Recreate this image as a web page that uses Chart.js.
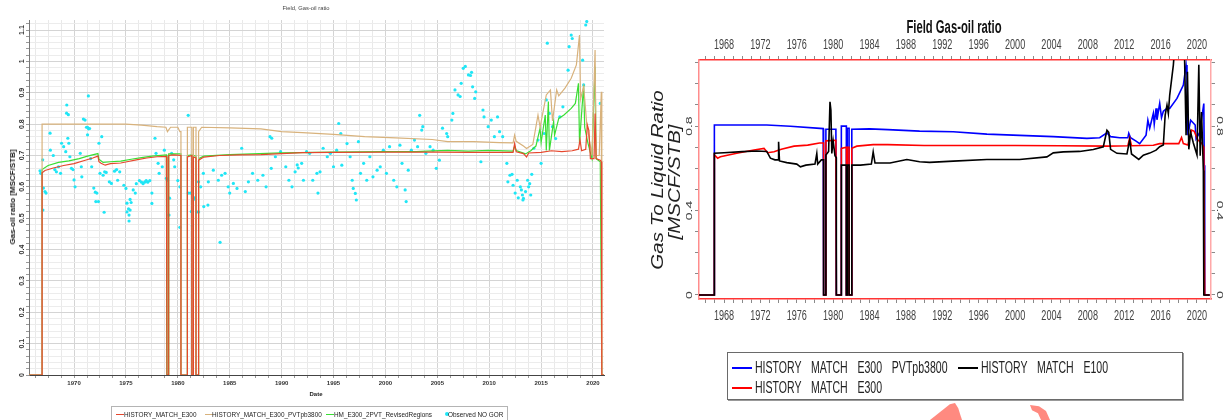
<!DOCTYPE html>
<html>
<head>
<meta charset="utf-8">
<script src="https://cdn.jsdelivr.net/npm/chart.js@4.4.1/dist/chart.umd.min.js"></script>
<style>
  body { margin: 0; width: 1231px; height: 420px; overflow: hidden; background: #fff; position: relative;
         font-family: "Liberation Sans", Arial, sans-serif; }
  canvas { position: absolute; top: 0; }
  #leftCanvas { left: 0; }
  #rightCanvas { left: 625px; }
  .txt { position: absolute; white-space: nowrap; line-height: 1; }
  .rot { transform: translate(-50%, -50%) rotate(-90deg); }
  #leftLegend { position: absolute; left: 111px; top: 406px; width: 397px; height: 20px; box-sizing: border-box;
                border: 1px solid #b4b4b4; background: #fff; }
  #leftLegend .item { position: absolute; top: 4px; font-size: 6.4px; color: #222; white-space: nowrap; }
  #leftLegend .swatch { position: absolute; top: 7px; height: 1px; }
  #leftLegend .dot { position: absolute; top: 5px; width: 4px; height: 4px; border-radius: 50%; }
  #rightLegend { position: absolute; left: 727px; top: 352px; width: 456px; height: 48px; box-sizing: border-box;
                 border: 1.5px solid #6a6a6a; box-shadow: 1px 1px 0 #999; background: #fff; }
  #rightLegend .swatch { position: absolute; height: 1.5px; width: 20px; }
  #rightLegend .item { position: absolute; font-size: 17px; color: #222; white-space: nowrap; word-spacing: 11px;
                       transform: translateY(-50%) scaleX(0.62); transform-origin: left center; }
  .mark { position: absolute; background: #ff8a80; }
</style>
</head>
<body>
<canvas id="leftCanvas" width="615" height="420"></canvas>
<canvas id="rightCanvas" width="606" height="420"></canvas>

<div class="txt" style="left:306px; top:9px; font-size:5.8px; color:#444; transform:translate(-50%,-50%);">Field, Gas-oil ratio</div>
<div class="txt rot" style="left:13px; top:197px; font-size:8px; font-weight:bold; color:#222;">Gas-oil ratio [MSCF/STB]</div>
<div class="txt" style="left:316px; top:394px; font-size:6px; font-weight:bold; color:#222; transform:translate(-50%,-50%);">Date</div>
<div id="leftLegend"></div>

<div class="txt" style="left:954px; top:27px; font-size:18px; font-weight:bold; color:#111; transform:translate(-50%,-50%) scaleX(0.625);">Field Gas-oil ratio</div>
<div class="txt" style="left:658px; top:180px; font-size:20.5px; font-style:italic; color:#222; transform:translate(-50%,-50%) scaleX(0.76) rotate(-90deg);">Gas To Liquid Ratio</div>
<div class="txt" style="left:675px; top:182px; font-size:20.5px; font-style:italic; color:#222; transform:translate(-50%,-50%) scaleX(0.76) rotate(-90deg);">[MSCF/STB]</div>
<div id="rightLegend"></div>

<div class="mark" style="left:930px; top:403px; width:32px; height:17px; clip-path:polygon(0% 100%, 62% 8%, 78% 0%, 88% 30%, 100% 100%);"></div>
<div class="mark" style="left:1030px; top:405px; width:20px; height:15px; clip-path:polygon(0% 0%, 45% 8%, 80% 40%, 100% 100%, 55% 100%, 40% 55%, 10% 35%);"></div>

<script>
// ---- left chart data (year, MSCF/STB) ----
const leftNames = ['HISTORY_MATCH_E300', 'HISTORY_MATCH_E300_PVTpb3800', 'HM_E300_2PVT_RevisedRegions', 'Observed NO GOR'];

const leftE300 = [
  [1965.66, 0], [1966.92, 0], [1966.92, 0.645], [1967.2, 0.652], [1968, 0.66], [1969, 0.668], [1970, 0.674],
  [1971, 0.684], [1971.8, 0.692], [1972.3, 0.698], [1972.4, 0.68], [1972.6, 0.675], [1973, 0.669], [1973.5, 0.674],
  [1974.5, 0.676], [1975.1, 0.68], [1976, 0.686], [1977, 0.692], [1978, 0.696], [1978.9, 0.697], [1978.95, 0],
  [1979.12, 0], [1979.12, 0.70], [1979.6, 0.702], [1980.3, 0.70], [1980.3, 0], [1980.92, 0], [1980.92, 0.695],
  [1981.35, 0.70], [1981.35, 0], [1981.5, 0], [1981.5, 0.695], [1981.75, 0.692], [1981.75, 0], [1982.0, 0],
  [1982.0, 0.685], [1982.5, 0.695], [1984, 0.70], [1986, 0.702], [1988, 0.703], [1990, 0.706], [1992, 0.709],
  [1995, 0.71], [2000, 0.711], [2005, 0.711], [2008, 0.71], [2010, 0.71], [2012.3, 0.71], [2012.45, 0.738],
  [2012.6, 0.712], [2013.3, 0.706], [2013.6, 0.695], [2013.8, 0.708], [2015, 0.71], [2016, 0.715], [2017, 0.712],
  [2018, 0.715], [2018.6, 0.72], [2018.75, 0.75], [2018.9, 0.715], [2019.3, 0.72], [2019.45, 0.797], [2019.6, 0.78],
  [2019.75, 0.69], [2020.1, 0.69], [2020.2, 0.834], [2020.3, 0.69], [2020.7, 0.685], [2020.8, 0.68], [2020.85, 0],
  [2021.06, 0]
];

const leftPvt = [
  [1965.66, 0], [1966.92, 0], [1966.92, 0.80], [1970, 0.80], [1975, 0.80], [1976.5, 0.797], [1978, 0.792],
  [1978.85, 0.79], [1979.0, 0.776], [1979.3, 0.79], [1980.0, 0.79], [1980.2, 0.776], [1980.3, 0.776], [1980.3, 0],
  [1980.92, 0], [1980.92, 0.79], [1981.35, 0.79], [1981.35, 0], [1981.5, 0], [1981.5, 0.79], [1981.75, 0.79],
  [1981.75, 0], [1982, 0], [1982, 0.776], [1982.3, 0.79], [1985, 0.788], [1988, 0.785], [1990, 0.776],
  [1992, 0.773], [1995, 0.767], [1998, 0.76], [2001, 0.756], [2004.5, 0.751], [2006, 0.744], [2008.5, 0.744],
  [2011, 0.741], [2012.3, 0.74], [2012.45, 0.765], [2012.6, 0.745], [2013.3, 0.73], [2013.6, 0.722],
  [2014.2, 0.735], [2014.7, 0.829], [2014.9, 0.79], [2015.5, 0.893], [2015.9, 0.909], [2016.1, 0.81],
  [2016.5, 0.909], [2016.7, 0.89], [2017.3, 0.915], [2017.9, 0.946], [2018.4, 0.989], [2018.7, 1.084],
  [2018.8, 0.88], [2019.1, 0.92], [2019.4, 0.80], [2019.9, 0.70], [2020.2, 1.036], [2020.3, 0.70], [2020.6, 0.70],
  [2020.8, 0.903], [2020.85, 0], [2021.06, 0]
];

const left2Pvt = [
  [1965.66, 0], [1966.92, 0], [1966.92, 0.655], [1967.5, 0.668], [1968.5, 0.678], [1969.5, 0.683], [1970.5, 0.69],
  [1971.3, 0.698], [1972.3, 0.706], [1972.4, 0.688], [1972.8, 0.678], [1973.5, 0.68], [1974.5, 0.682],
  [1975.5, 0.688], [1976.5, 0.693], [1977.5, 0.698], [1978.9, 0.702], [1978.95, 0], [1979.12, 0], [1979.12, 0.705],
  [1980.3, 0.705], [1980.3, 0], [1980.92, 0], [1980.92, 0.70], [1981.35, 0.702], [1981.35, 0], [1981.5, 0],
  [1981.5, 0.70], [1981.75, 0.698], [1981.75, 0], [1982, 0], [1982, 0.69], [1982.5, 0.698], [1985, 0.703],
  [1990, 0.708], [1995, 0.711], [2000, 0.712], [2003, 0.712], [2004, 0.714], [2006, 0.716], [2008, 0.714],
  [2010, 0.716], [2012.3, 0.714], [2012.45, 0.73], [2012.6, 0.716], [2013.5, 0.705], [2014, 0.715], [2014.5, 0.73],
  [2014.9, 0.787], [2015.0, 0.741], [2015.4, 0.829], [2015.5, 0.716], [2015.7, 0.872], [2015.8, 0.716],
  [2016.2, 0.808], [2016.3, 0.765], [2016.7, 0.818], [2017.2, 0.829], [2017.9, 0.85], [2018.3, 0.866],
  [2018.6, 0.93], [2018.7, 0.741], [2019.1, 0.925], [2019.2, 0.79], [2019.5, 0.741], [2019.9, 0.69], [2020.2, 0.983],
  [2020.3, 0.69], [2020.7, 0.68], [2020.85, 0], [2021.06, 0]
];

const observedNoGor = [
  [1966.72, 0.651], [1966.8, 0.643], [1966.98, 0.686], [1967.0, 0.526], [1967.05, 0.596], [1967.2, 0.585], [1967.3, 0.58],
  [1967.69, 0.771], [1967.72, 0.717], [1968.0, 0.70], [1968.15, 0.655], [1968.3, 0.648], [1968.5, 0.664], [1968.7, 0.643],
  [1968.8, 0.739], [1969.0, 0.728], [1969.2, 0.712], [1969.3, 0.861], [1969.28, 0.835], [1969.45, 0.83], [1969.4, 0.755],
  [1969.5, 0.739], [1969.6, 0.696], [1969.75, 0.659], [1969.9, 0.655], [1970.0, 0.622], [1970.1, 0.60], [1970.6, 0.707],
  [1970.7, 0.664], [1970.75, 0.632], [1970.9, 0.816], [1971.06, 0.813], [1971.2, 0.79], [1971.3, 0.79], [1971.4, 0.785],
  [1971.3, 0.766], [1971.38, 0.89], [1971.5, 0.786], [1971.6, 0.69], [1971.7, 0.664], [1971.9, 0.596], [1972.05, 0.583],
  [1972.1, 0.553], [1972.2, 0.58], [1972.35, 0.553], [1972.4, 0.739], [1972.67, 0.76], [1972.5, 0.643], [1972.8, 0.637],
  [1972.9, 0.519], [1972.95, 0.648], [1973.1, 0.646], [1973.4, 0.616], [1973.6, 0.611], [1973.9, 0.65], [1974.1, 0.655],
  [1974.2, 0.621], [1974.4, 0.648], [1974.8, 0.605], [1975.0, 0.595], [1975.1, 0.548], [1975.1, 0.52], [1975.25, 0.53],
  [1975.3, 0.491], [1975.3, 0.51], [1975.4, 0.56], [1975.4, 0.526], [1975.5, 0.55], [1975.7, 0.59], [1975.9, 0.58],
  [1976.0, 0.61], [1976.3, 0.62], [1976.5, 0.615], [1976.65, 0.61], [1976.8, 0.615], [1976.95, 0.62], [1977.1, 0.615],
  [1977.3, 0.62], [1977.5, 0.58], [1977.5, 0.547], [1977.8, 0.755], [1977.9, 0.707], [1978.1, 0.675], [1978.2, 0.643],
  [1978.5, 0.664], [1978.7, 0.717], [1978.9, 0.627], [1979.0, 0.621], [1979.15, 0.51], [1979.2, 0.564], [1979.4, 0.707],
  [1979.6, 0.686], [1979.7, 0.664], [1980.0, 0.62], [1980.2, 0.60], [1980.2, 0.471], [1981.0, 0.828], [1981.0, 0.58],
  [1981.2, 0.58], [1981.3, 0.521], [1981.4, 0.476], [1981.5, 0.56], [1981.6, 0.565], [1981.8, 0.52], [1982.0, 0.616],
  [1982.0, 0.52], [1982.2, 0.60], [1982.46, 0.643], [1982.5, 0.537], [1982.9, 0.542], [1982.94, 0.616], [1983.42, 0.653],
  [1983.9, 0.621], [1984.07, 0.423], [1984.22, 0.637], [1984.55, 0.643], [1984.85, 0.60], [1985.0, 0.58], [1985.35, 0.611],
  [1985.7, 0.595], [1986.15, 0.723], [1986.5, 0.585], [1986.8, 0.616], [1987.2, 0.643], [1987.7, 0.621], [1988.2, 0.637],
  [1988.5, 0.60], [1988.88, 0.76], [1989.0, 0.659], [1989.05, 0.755], [1989.4, 0.696], [1989.9, 0.712], [1990.4, 0.664],
  [1990.7, 0.621], [1991.0, 0.60], [1991.3, 0.648], [1991.5, 0.67], [1991.6, 0.66],
  [1991.93, 0.675], [1992.1, 0.621], [1992.4, 0.712], [1992.7, 0.707], [1993.0, 0.621], [1993.4, 0.643], [1993.5, 0.58],
  [1993.7, 0.648], [1994.0, 0.723], [1994.4, 0.696], [1994.7, 0.707], [1995.0, 0.664], [1995.3, 0.717], [1995.5, 0.802],
  [1995.7, 0.77], [1995.8, 0.669], [1996.3, 0.738], [1996.6, 0.696], [1996.8, 0.621], [1996.9, 0.595], [1997.1, 0.579],
  [1997.2, 0.558], [1997.4, 0.744], [1997.6, 0.643], [1997.9, 0.675], [1998.2, 0.621], [1998.5, 0.696], [1998.8, 0.632],
  [1999.2, 0.653], [1999.5, 0.664], [1999.8, 0.717], [2000.1, 0.643], [2000.4, 0.728], [2000.8, 0.621], [2001.1, 0.60],
  [2001.4, 0.733], [2001.6, 0.675], [2001.9, 0.59], [2002.0, 0.553], [2002.2, 0.653], [2002.5, 0.717], [2002.8, 0.749],
  [2003.1, 0.728], [2003.3, 0.828], [2003.5, 0.781], [2003.6, 0.792], [2003.9, 0.707], [2004.3, 0.728], [2004.6, 0.717],
  [2004.9, 0.659], [2005.2, 0.685], [2005.5, 0.787], [2005.9, 0.77], [2006.0, 0.76], [2006.4, 0.813], [2006.5, 0.834],
  [2006.7, 0.909], [2007.0, 0.893], [2007.2, 0.888], [2007.3, 0.93], [2007.5, 0.978], [2007.7, 0.984], [2008.0, 0.957],
  [2008.2, 0.955], [2008.3, 0.965], [2008.4, 0.919], [2008.6, 0.882], [2008.7, 0.903], [2009.2, 0.68], [2009.4, 0.845],
  [2009.5, 0.823], [2009.9, 0.792], [2010.2, 0.813], [2010.5, 0.76], [2010.8, 0.823], [2011.0, 0.776], [2011.3, 0.76],
  [2011.7, 0.675], [2011.8, 0.616], [2012.0, 0.637], [2012.2, 0.64], [2012.3, 0.605], [2012.5, 0.58], [2012.7, 0.621],
  [2012.8, 0.565], [2013.0, 0.60], [2013.1, 0.59], [2013.2, 0.574], [2013.25, 0.558], [2013.3, 0.563], [2013.5, 0.585],
  [2013.7, 0.621], [2013.8, 0.60], [2013.9, 0.61], [2014.0, 0.574], [2014.1, 0.64], [2014.3, 0.723], [2014.7, 0.749],
  [2015.0, 0.675], [2015.3, 0.77], [2015.5, 0.877], [2015.6, 1.058], [2015.8, 0.834], [2016.1, 0.792], [2016.4, 0.754],
  [2016.8, 0.823], [2017.1, 0.855], [2017.6, 0.972], [2017.7, 1.047], [2017.9, 1.084], [2018.0, 1.073], [2019.0, 1.004],
  [2019.1, 0.925], [2019.3, 1.116], [2019.4, 1.127], [2020.7, 0.866]
];

// ---- right chart data ----
const rightNames = ['HISTORY MATCH E300 PVTpb3800', 'HISTORY MATCH E100', 'HISTORY MATCH E300'];

const rightPvt = [
  [1965.25, 0], [1966.94, 0], [1966.94, 0.805], [1970, 0.805], [1972.7, 0.805], [1975.3, 0.799], [1978.9, 0.788],
  [1978.95, 0], [1979.2, 0], [1979.2, 0.785], [1980.3, 0.785], [1980.35, 0], [1980.9, 0], [1980.9, 0.80],
  [1981.45, 0.80], [1981.45, 0], [1981.55, 0], [1981.55, 0.79], [1981.75, 0.79], [1981.75, 0], [1982.05, 0],
  [1982.05, 0.785], [1984, 0.787], [1986, 0.783], [1989.5, 0.776], [1993.2, 0.773], [1996.9, 0.762], [2000.5, 0.756],
  [2004.2, 0.75], [2007.9, 0.742], [2009.3, 0.745], [2010.1, 0.768], [2010.5, 0.75], [2011.5, 0.745], [2012.4, 0.745],
  [2012.5, 0.766], [2012.7, 0.745], [2013.3, 0.729], [2013.7, 0.717], [2014.4, 0.757], [2014.6, 0.828], [2014.8, 0.79],
  [2015.2, 0.86], [2015.3, 0.81], [2015.5, 0.884], [2015.6, 0.83], [2015.9, 0.907], [2016.1, 0.84], [2016.3, 0.87],
  [2016.7, 0.884], [2017.0, 0.884], [2017.8, 0.931], [2018.5, 0.994], [2018.8, 1.089], [2018.9, 1.041], [2019.0, 0.757],
  [2019.3, 0.828], [2019.8, 0.805], [2019.9, 0.74], [2020.3, 0.77], [2020.75, 0.907], [2020.8, 0.615], [2020.85, 0],
  [2021.4, 0]
];

const rightE100 = [
  [1965.25, 0], [1966.94, 0], [1966.94, 0.671], [1968, 0.674], [1970, 0.679], [1971.6, 0.682], [1972.7, 0.68],
  [1973.1, 0.648], [1973.6, 0.64], [1973.95, 0.64], [1974.0, 0.726], [1974.1, 0.635], [1974.9, 0.627], [1976.0, 0.62],
  [1976.4, 0.607], [1977, 0.615], [1978.0, 0.62], [1978.2, 0.67], [1978.3, 0.62], [1978.7, 0.64], [1978.95, 0.64],
  [1978.95, 0], [1979.2, 0], [1979.2, 0.663], [1979.5, 0.68], [1979.65, 0.915], [1979.75, 0.876], [1979.85, 0.67],
  [1980.0, 0.73], [1980.2, 0.66], [1980.35, 0.65], [1980.35, 0], [1980.9, 0], [1980.9, 0.615], [1981.45, 0.615],
  [1981.45, 0], [1981.55, 0], [1981.55, 0.615], [1981.75, 0.615], [1981.75, 0], [1982.05, 0], [1982.05, 0.615],
  [1983, 0.615], [1984.2, 0.62], [1984.4, 0.678], [1984.6, 0.625], [1986.25, 0.625], [1988.1, 0.642], [1989.5, 0.631],
  [1990.6, 0.628], [1993.2, 0.634], [1996.9, 0.642], [2000.5, 0.642], [2003.5, 0.654], [2004.2, 0.673], [2005.3, 0.678],
  [2007.1, 0.68], [2008.6, 0.689], [2009.7, 0.702], [2010.1, 0.78], [2010.3, 0.77], [2010.5, 0.69], [2011.2, 0.671],
  [2012.3, 0.668], [2012.6, 0.734], [2012.8, 0.668], [2013.6, 0.642], [2014.1, 0.662], [2014.8, 0.672], [2015.5, 0.686],
  [2015.9, 0.702], [2016.3, 0.71], [2016.5, 0.852], [2016.7, 0.899], [2016.85, 0.86], [2017.0, 0.947], [2017.4, 1.089],
  [2017.6, 1.2], [2018.6, 1.2], [2018.8, 0.757], [2018.95, 1.057], [2019.1, 0.69], [2019.3, 0.77], [2019.6, 0.72],
  [2020.0, 0.663], [2020.2, 1.09], [2020.35, 0.66], [2020.5, 0.867], [2020.7, 0.59], [2020.75, 0], [2021.4, 0]
];

const rightE300 = [
  [1965.25, 0], [1966.94, 0], [1966.94, 0.663], [1967.3, 0.648], [1967.6, 0.655], [1969.4, 0.671], [1971.3, 0.687],
  [1972.4, 0.694], [1972.8, 0.674], [1973.5, 0.678], [1974.3, 0.69], [1975.7, 0.705], [1977.2, 0.71], [1978.5, 0.72],
  [1978.95, 0.72], [1978.95, 0], [1979.2, 0], [1979.2, 0.73], [1980.3, 0.733], [1980.35, 0], [1980.9, 0],
  [1980.9, 0.694], [1981.45, 0.70], [1981.45, 0], [1981.55, 0], [1981.55, 0.70], [1981.75, 0.70], [1981.75, 0],
  [1982.05, 0], [1982.05, 0.695], [1982.6, 0.705], [1984.4, 0.712], [1986, 0.712], [1990, 0.708], [1995, 0.708],
  [2000, 0.708], [2005, 0.707], [2010.1, 0.705], [2012.4, 0.707], [2012.6, 0.744], [2012.8, 0.707], [2015.2, 0.709],
  [2015.9, 0.717], [2018, 0.717], [2018.3, 0.746], [2018.5, 0.717], [2019.0, 0.71], [2019.4, 0.781], [2019.7, 0.775],
  [2020.1, 0.734], [2020.5, 0.72], [2020.75, 0.70], [2020.85, 0], [2021.4, 0]
];

const isMult = (v, step) => Math.abs(v / step - Math.round(v / step)) < 1e-6;

// draws tick labels of the given axes (rotated / squeezed), positioned through each scale
function tickPainter(items) {
  return {
    id: 'tickPainter',
    afterDraw(chart) {
      const ctx = chart.ctx;
      items.forEach(it => {
        const scale = chart.scales[it.axis];
        ctx.save();
        ctx.font = it.font;
        ctx.fillStyle = it.color;
        ctx.textAlign = 'center';
        ctx.textBaseline = 'middle';
        scale.ticks.forEach(t => {
          if (!t.label) return;
          const p = scale.getPixelForValue(t.value);
          let x, y;
          if (scale.isHorizontal()) {
            x = p;
            y = it.side === 'top' ? scale.bottom - it.gap : scale.top + it.gap;
          } else {
            y = p;
            x = it.side === 'left' ? scale.right - it.gap : scale.left + it.gap;
          }
          ctx.save();
          ctx.translate(x, y);
          ctx.scale(it.squeeze || 1, 1);
          ctx.rotate(it.angle || 0);
          ctx.fillText(t.label, 0, 0);
          ctx.restore();
        });
        ctx.restore();
      });
    }
  };
}

// ---------------- left chart ----------------
const leftColors = ['#e6472d', '#d8b27c', '#3ade34', '#1fe6f6'];

const leftChart = new Chart(document.getElementById('leftCanvas'), {
  type: 'line',
  data: {
    datasets: [
      { label: leftNames[0], data: leftE300, borderColor: leftColors[0], borderWidth: 1.2, pointRadius: 0 },
      { label: leftNames[1], data: leftPvt, borderColor: leftColors[1], borderWidth: 1.2, pointRadius: 0 },
      { label: leftNames[2], data: left2Pvt, borderColor: leftColors[2], borderWidth: 1.2, pointRadius: 0 },
      { label: leftNames[3], data: observedNoGor, showLine: false, pointRadius: 1.6, pointBorderWidth: 0,
        pointBackgroundColor: leftColors[3], borderColor: leftColors[3] }
    ]
  },
  options: {
    responsive: false,
    animation: false,
    events: [],
    layout: { padding: { top: 20, right: 11, left: 0, bottom: 0 } },
    plugins: { legend: { display: false }, title: { display: false }, tooltip: { enabled: false } },
    scales: {
      x: {
        type: 'linear', min: 1965.66, max: 2021.06,
        ticks: {
          stepSize: 1.25, includeBounds: false, autoSkip: false, maxRotation: 0, padding: 2,
          callback: v => isMult(v, 5) ? String(Math.round(v)) : '',
          font: { family: 'Liberation Sans', size: 6, weight: 'bold' }, color: '#333'
        },
        grid: { color: c => isMult(c.tick.value, 5) ? '#d4d4d4' : '#e9e9e9', tickLength: 3, tickColor: '#999' },
        border: { color: '#444', width: 1 },
        afterFit: s => { s.height = 45; }
      },
      y: {
        min: 0, max: 1.132,
        ticks: {
          stepSize: 0.02, includeBounds: false, display: false,
          callback: v => isMult(v, 0.1) ? String(Math.round(v * 10) / 10) : ''
        },
        grid: { color: c => isMult(c.tick.value, 0.1) ? '#d4d4d4' : '#ececec', tickLength: 3, tickColor: '#999' },
        border: { color: '#777', width: 1 },
        afterFit: s => { s.width = 29; }
      }
    }
  },
  plugins: [tickPainter([
    { axis: 'y', side: 'left', gap: 7, angle: -Math.PI / 2, font: 'bold 7px "Liberation Sans"', color: '#333' }
  ])]
});

// ---------------- right chart ----------------
const rightColors = ['#0000ff', '#000000', '#ff0000'];

const yearTicks = {
  stepSize: 1, includeBounds: false, autoSkip: false, display: false,
  callback: v => isMult(v, 4) ? String(Math.round(v)) : ''
};
const ratioTicks = {
  stepSize: 0.1, includeBounds: false, display: false,
  callback: v => isMult(v, 0.4) ? String(Math.round(v * 10) / 10) : ''
};
const tickMarks = { drawOnChartArea: false, tickLength: 4, tickColor: '#8a8a8a', tickWidth: 1 };
const rightTickFont = '14px "Liberation Sans"';

const rightChart = new Chart(document.getElementById('rightCanvas'), {
  type: 'line',
  data: {
    datasets: [
      { label: rightNames[1], data: rightE100, borderColor: rightColors[1], borderWidth: 1.6, pointRadius: 0 },
      { label: rightNames[2], data: rightE300, borderColor: rightColors[2], borderWidth: 1.6, pointRadius: 0 },
      { label: rightNames[0], data: rightPvt, borderColor: rightColors[0], borderWidth: 1.6, pointRadius: 0 }
    ]
  },
  options: {
    responsive: false,
    animation: false,
    events: [],
    layout: { padding: 0 },
    plugins: { legend: { display: false }, title: { display: false }, tooltip: { enabled: false } },
    scales: {
      x: {
        type: 'linear', position: 'bottom', min: 1965.25, max: 2021.54,
        ticks: yearTicks, grid: tickMarks,
        border: { color: '#ff3434', width: 1.5 },
        afterFit: s => { s.height = 121; }
      },
      x2: {
        type: 'linear', position: 'top', min: 1965.25, max: 2021.54,
        ticks: yearTicks, grid: tickMarks,
        border: { color: '#ff3434', width: 1.5 },
        afterFit: s => { s.height = 60; }
      },
      y: {
        position: 'left', min: -0.019, max: 1.113,
        ticks: ratioTicks, grid: tickMarks,
        border: { color: '#ff8c8c', width: 1.5 },
        afterFit: s => { s.width = 74; }
      },
      y2: {
        position: 'right', min: -0.019, max: 1.113,
        ticks: ratioTicks, grid: tickMarks,
        border: { color: '#ffa8a8', width: 1.5 },
        afterFit: s => { s.width = 20; }
      }
    }
  },
  plugins: [tickPainter([
    { axis: 'x2', side: 'top', gap: 15, squeeze: 0.65, font: rightTickFont, color: '#444' },
    { axis: 'x', side: 'bottom', gap: 17, squeeze: 0.65, font: rightTickFont, color: '#444' },
    { axis: 'y', side: 'left', gap: 10, squeeze: 0.65, angle: -Math.PI / 2, font: rightTickFont, color: '#444' },
    { axis: 'y2', side: 'right', gap: 9, squeeze: 0.65, angle: Math.PI / 2, font: rightTickFont, color: '#444' }
  ])]
});

// ---------------- legends ----------------
const leftLegend = document.getElementById('leftLegend');
const leftSlots = [
  { swatch: 4, text: 12 },
  { swatch: 93, text: 100 },
  { swatch: 214, text: 222 },
  { swatch: 333, text: 336, dot: true }
];
leftChart.data.datasets.forEach((ds, i) => {
  const s = leftSlots[i];
  const mark = document.createElement('div');
  if (s.dot) {
    mark.className = 'dot';
    mark.style.left = s.swatch + 'px';
  } else {
    mark.className = 'swatch';
    mark.style.left = s.swatch + 'px';
    mark.style.width = '8px';
  }
  mark.style.background = leftColors[i];
  leftLegend.appendChild(mark);
  const label = document.createElement('div');
  label.className = 'item';
  label.style.left = s.text + 'px';
  label.textContent = ds.label;
  leftLegend.appendChild(label);
});

const rightLegend = document.getElementById('rightLegend');
const rightSlots = [
  { name: rightNames[0], color: rightColors[0], x: 4, y: 14 },
  { name: rightNames[1], color: rightColors[1], x: 230, y: 14 },
  { name: rightNames[2], color: rightColors[2], x: 4, y: 34 }
];
rightSlots.forEach(s => {
  const sw = document.createElement('div');
  sw.className = 'swatch';
  sw.style.left = s.x + 'px';
  sw.style.top = s.y + 'px';
  sw.style.background = s.color;
  rightLegend.appendChild(sw);
  const label = document.createElement('div');
  label.className = 'item';
  label.style.left = (s.x + 23) + 'px';
  label.style.top = (s.y + 1) + 'px';
  label.textContent = s.name;
  rightLegend.appendChild(label);
});
</script>
</body>
</html>
